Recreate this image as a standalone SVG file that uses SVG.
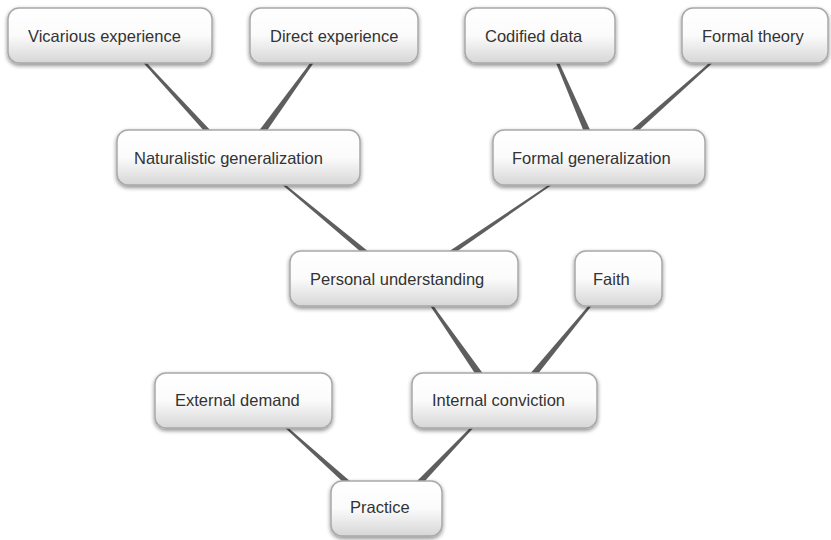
<svg xmlns="http://www.w3.org/2000/svg" width="831" height="540" viewBox="0 0 831 540">
<defs>
<linearGradient id="g" x1="0" y1="0" x2="0" y2="1">
<stop offset="0" stop-color="#ffffff"/>
<stop offset="0.5" stop-color="#fbfbfb"/>
<stop offset="1" stop-color="#d6d6d6"/>
</linearGradient>
<filter id="sh" x="-10%" y="-20%" width="120%" height="150%">
<feGaussianBlur in="SourceAlpha" stdDeviation="2"/>
<feOffset dx="0" dy="2" result="b"/>
<feComponentTransfer><feFuncA type="linear" slope="0.45"/></feComponentTransfer>
<feMerge><feMergeNode/><feMergeNode in="SourceGraphic"/></feMerge>
</filter>
</defs>
<style>
.box{fill:url(#g);stroke:#a8a8a8;stroke-width:1.5;filter:url(#sh)}
.t{font-family:"Liberation Sans",Arial,sans-serif;font-size:16.5px;fill:#333}
.c{fill:#5e5e5e}
</style>
<rect width="831" height="540" fill="#fff"/>
<g id="connectors">
<polygon class="c" points="139,58 142,58 212,132 205,132"/>
<polygon class="c" points="314,58 317,58 266,132 258,132"/>
<polygon class="c" points="554,58 557,58 591,132 584,132"/>
<polygon class="c" points="715,58 718,58 637,132 629,132"/>
<polygon class="c" points="279,182 282,182 369,252 361,252"/>
<polygon class="c" points="553,182 556,182 456,252 448,252"/>
<polygon class="c" points="429,304 432,304 484,375 476,375"/>
<polygon class="c" points="590,304 593,304 537,375 529,375"/>
<polygon class="c" points="282,425 285,425 351,482 343,482"/>
<polygon class="c" points="473,425 476,425 424,482 416,482"/>
</g>
<g id="vicarious"><rect class="box" x="8" y="8" width="204" height="55" rx="11"/><text class="t" x="28" y="42">Vicarious experience</text></g>
<g id="direct"><rect class="box" x="250" y="8" width="168" height="55" rx="11"/><text class="t" x="270" y="42">Direct experience</text></g>
<g id="codified"><rect class="box" x="465" y="8" width="150" height="55" rx="11"/><text class="t" x="485" y="42">Codified data</text></g>
<g id="formaltheory"><rect class="box" x="682" y="8" width="146" height="55" rx="11"/><text class="t" x="702" y="42">Formal theory</text></g>
<g id="naturalistic"><rect class="box" x="117" y="130" width="243" height="55" rx="11"/><text class="t" x="134" y="164">Naturalistic generalization</text></g>
<g id="formalgen"><rect class="box" x="493" y="130" width="212" height="55" rx="11"/><text class="t" x="512" y="164">Formal generalization</text></g>
<g id="personal"><rect class="box" x="290" y="251" width="228" height="55" rx="11"/><text class="t" x="310" y="285">Personal understanding</text></g>
<g id="faith"><rect class="box" x="575" y="251" width="87" height="55" rx="11"/><text class="t" x="593" y="285">Faith</text></g>
<g id="external"><rect class="box" x="155" y="373" width="177" height="55" rx="11"/><text class="t" x="175" y="406">External demand</text></g>
<g id="internal"><rect class="box" x="412" y="373" width="185" height="55" rx="11"/><text class="t" x="432" y="406">Internal conviction</text></g>
<g id="practice"><rect class="box" x="331" y="481" width="111" height="55" rx="11"/><text class="t" x="350" y="513">Practice</text></g>
</svg>
